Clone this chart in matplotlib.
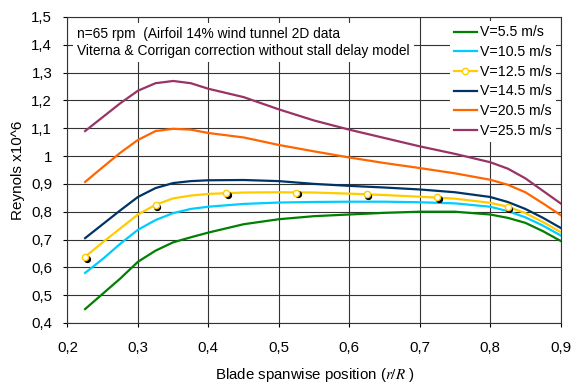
import matplotlib
matplotlib.use('Agg')
import matplotlib.pyplot as plt
import matplotlib.transforms as mtransforms

plt.rcParams['font.family'] = ['Liberation Sans', 'DejaVu Sans']
plt.rcParams['mathtext.fontset'] = 'stix'

# blade positions (r/R)
x = [0.225, 0.25, 0.275, 0.3, 0.325, 0.35, 0.375, 0.4, 0.45, 0.5, 0.55,
     0.6, 0.65, 0.7, 0.75, 0.8, 0.825, 0.85, 0.875, 0.9]

re_5_5 = [0.45, 0.505, 0.56, 0.62, 0.66, 0.69, 0.708, 0.725, 0.755, 0.773, 0.784,
          0.79, 0.796, 0.8, 0.8, 0.79, 0.778, 0.76, 0.73, 0.695]
re_10_5 = [0.58, 0.63, 0.685, 0.735, 0.77, 0.795, 0.81, 0.818, 0.828, 0.833, 0.835,
           0.836, 0.836, 0.834, 0.83, 0.818, 0.802, 0.78, 0.75, 0.715]
re_12_5 = [0.638, 0.69, 0.74, 0.79, 0.825, 0.848, 0.858, 0.864, 0.869, 0.87, 0.869,
           0.865, 0.86, 0.854, 0.847, 0.832, 0.818, 0.795, 0.763, 0.727]
re_14_5 = [0.705, 0.755, 0.805, 0.853, 0.885, 0.903, 0.91, 0.913, 0.914, 0.91, 0.9,
           0.893, 0.887, 0.88, 0.87, 0.853, 0.835, 0.81, 0.778, 0.742]
re_20_5 = [0.907, 0.96, 1.012, 1.058, 1.09, 1.098, 1.095, 1.083, 1.067, 1.04, 1.017,
           0.995, 0.975, 0.957, 0.938, 0.915, 0.897, 0.87, 0.83, 0.788]
re_25_5 = [1.09, 1.14, 1.19, 1.235, 1.262, 1.27, 1.262, 1.242, 1.212, 1.168, 1.128,
           1.095, 1.065, 1.035, 1.008, 0.978, 0.955, 0.92, 0.875, 0.83]

# marked points of the 12.5 m/s curve
mark_x = [0.225, 0.325, 0.425, 0.525, 0.625, 0.725, 0.825]
mark_y = [0.638, 0.825, 0.868, 0.869, 0.862, 0.852, 0.818]

xticks = [0.2, 0.3, 0.4, 0.5, 0.6, 0.7, 0.8, 0.9]
xtick_labels = ['0,2', '0,3', '0,4', '0,5', '0,6', '0,7', '0,8', '0,9']
yticks = [0.4, 0.5, 0.6, 0.7, 0.8, 0.9, 1.0, 1.1, 1.2, 1.3, 1.4, 1.5]
ytick_labels = ['0,4', '0,5', '0,6', '0,7', '0,8', '0,9', '1', '1,1', '1,2', '1,3', '1,4', '1,5']

fig = plt.figure(figsize=(5.72, 3.82), dpi=100)
ax = fig.add_axes([0.118, 0.1545, 0.862, 0.801])

lw = 1.6
ax.plot(x, re_5_5, color='#008000', lw=lw, label='V=5.5 m/s', zorder=3)
ax.plot(x, re_10_5, color='#00ccff', lw=lw, label='V=10.5 m/s', zorder=3)
ax.plot(x, re_12_5, color='#ffcc00', lw=lw, zorder=4)
# black shadow dots under the markers
shadow = mtransforms.offset_copy(ax.transData, fig=fig, x=1.1, y=-1.4, units='points')
ax.plot(mark_x, mark_y, 'o', color='black', ms=4.2, transform=shadow, zorder=4)
ax.plot(mark_x, mark_y, 'o', mfc='white', mec='#ffcc00', ms=4.5, mew=1.0, zorder=5)
ax.plot([], [], color='#ffcc00', lw=lw, marker='o', mfc='white', mec='#ffcc00',
        ms=4.5, label='V=12.5 m/s')
ax.plot(x, re_14_5, color='#003366', lw=lw, label='V=14.5 m/s', zorder=3)
ax.plot(x, re_20_5, color='#ff6600', lw=lw, label='V=20.5 m/s', zorder=3)
ax.plot(x, re_25_5, color='#993366', lw=lw, label='V=25.5 m/s', zorder=3)

ax.set_xlim(0.2, 0.9)
ax.set_ylim(0.4, 1.5)
ax.set_xticks(xticks)
ax.set_xticklabels(xtick_labels)
ax.set_yticks(yticks)
ax.set_yticklabels(ytick_labels)
ax.tick_params(labelsize=10.8, direction='out', length=3, width=0.8, colors='black')
ax.tick_params(axis='x', pad=10)
ax.tick_params(axis='y', pad=8)
ax.grid(True, color='#333333', lw=0.8, zorder=1)
ax.set_axisbelow(True)
for s in ax.spines.values():
    s.set_color('#333333')
    s.set_linewidth(0.8)

ax.set_xlabel('Blade spanwise position ($r/R$ )', fontsize=10.8)
ax.xaxis.set_label_coords(0.502, -0.139)
ax.set_ylabel('Reynols x10^6', fontsize=11)
ax.yaxis.set_label_coords(-0.086, 0.5)

ax.text(0.02, 0.968, 'n=65 rpm  (Airfoil 14% wind tunnel 2D data\n'
        'Viterna & Corrigan correction without stall delay model',
        transform=ax.transAxes, fontsize=9.9, va='top', ha='left', linespacing=1.25,
        bbox=dict(facecolor='white', edgecolor='none', pad=3), zorder=6)

leg = ax.legend(loc='upper right', fontsize=10.2, frameon=True, fancybox=False,
                edgecolor='none', framealpha=1, borderaxespad=0.3, borderpad=0.3,
                handlelength=1.6, handletextpad=0.25, labelspacing=0.4)
leg.set_zorder(6)

fig.savefig('out.png', dpi=100)
